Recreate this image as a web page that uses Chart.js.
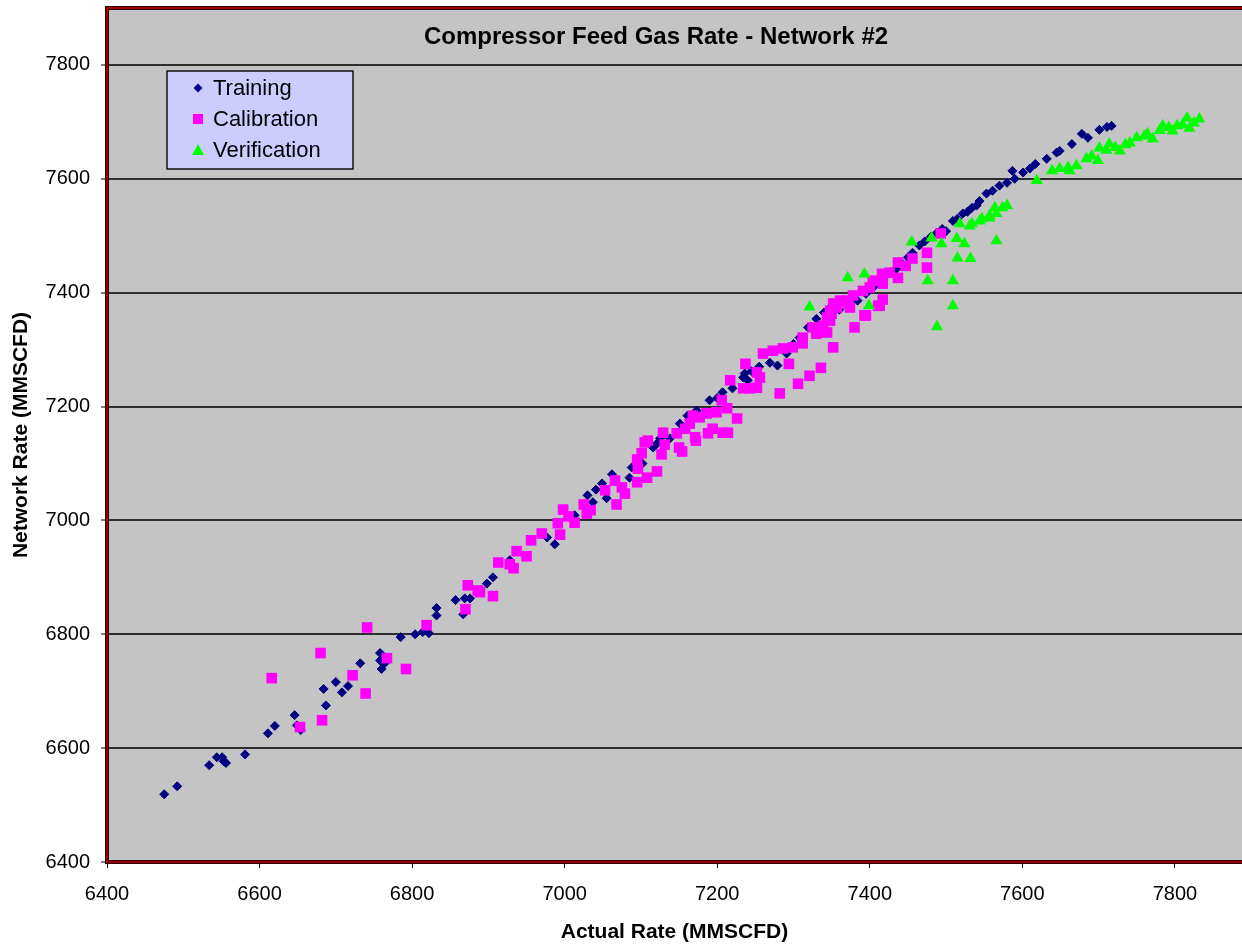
<!DOCTYPE html>
<html>
<head>
<meta charset="utf-8">
<title>Compressor Feed Gas Rate - Network #2</title>
<script src="https://cdn.jsdelivr.net/npm/chart.js@4/dist/chart.umd.min.js"></script>
<style>
  html, body { margin: 0; padding: 0; background: #fff; overflow: hidden; }
  #wrap { width: 1242px; height: 945px; position: relative; }
</style>
</head>
<body>
<div id="wrap"><canvas id="gasChart"></canvas></div>
<script>
// ============================
// DATOS
// ============================
const chartTitle = "Compressor Feed Gas Rate - Network #2";
const xTitle = "Actual Rate (MMSCFD)";
const yTitle = "Network Rate (MMSCFD)";
const seriesNames = ["Training", "Calibration", "Verification"];

const xTicks = [6400, 6600, 6800, 7000, 7200, 7400, 7600, 7800];
const yTicks = [6400, 6600, 6800, 7000, 7200, 7400, 7600, 7800];

// [actual, network]
const trainingPoints = [
  [6475,6519],[6492,6533],[6534,6570],[6544,6584],[6551,6584],[6553,6577],[6556,6574],[6581,6589],
  [6611,6626],[6620,6639],[6646,6658],[6649,6640],[6654,6632],[6684,6704],[6687,6675],[6700,6716],
  [6708,6698],[6716,6709],[6732,6749],[6758,6767],[6758,6754],[6760,6739],[6764,6749],[6785,6795],
  [6804,6800],[6814,6804],[6822,6802],[6832,6846],[6832,6833],[6857,6860],[6867,6835],[6869,6863],
  [6876,6863],[6898,6889],[6906,6900],[6928,6930],[6977,6970],[6987,6958],[7013,7009],[7030,7044],
  [7037,7032],[7041,7054],[7049,7065],[7055,7039],[7062,7081],[7085,7075],[7088,7093],[7102,7100],
  [7116,7128],[7121,7135],[7125,7144],[7138,7144],[7151,7170],[7161,7184],[7173,7193],[7190,7211],
  [7200,7215],[7207,7225],[7220,7232],[7234,7251],[7236,7258],[7240,7246],[7245,7262],[7255,7270],
  [7269,7277],[7279,7272],[7291,7293],[7300,7310],[7308,7321],[7319,7339],[7330,7354],[7340,7365],
  [7348,7374],[7360,7370],[7374,7381],[7384,7386],[7395,7398],[7405,7410],[7412,7420],[7420,7428],
  [7428,7436],[7435,7442],[7442,7452],[7450,7462],[7456,7470],[7465,7483],[7472,7490],[7480,7498],
  [7488,7505],[7495,7512],[7500,7508],[7509,7526],[7515,7530],[7522,7539],[7528,7542],[7534,7549],
  [7540,7553],[7544,7561],[7553,7574],[7561,7579],[7570,7588],[7580,7593],[7587,7614],[7590,7600],
  [7601,7611],[7610,7618],[7617,7626],[7632,7635],[7645,7646],[7649,7649],[7665,7661],[7678,7679],
  [7686,7672],[7701,7686],[7711,7691],[7717,7693]
];

const calibrationPoints = [
  [6616,6723],[6653,6637],[6680,6767],[6682,6649],[6722,6728],[6739,6696],[6741,6812],[6767,6758],
  [6792,6739],[6819,6816],[6870,6844],[6873,6886],[6886,6877],[6889,6874],[6906,6867],[6913,6926],
  [6928,6923],[6933,6916],[6937,6946],[6950,6937],[6956,6965],[6970,6977],[6994,6975],[6991,6995],
  [6998,7019],[7005,7007],[7013,6996],[7025,7028],[7029,7012],[7034,7018],[7053,7053],[7068,7028],
  [7066,7070],[7079,7047],[7075,7058],[7095,7067],[7096,7091],[7095,7107],[7108,7075],[7121,7086],
  [7101,7118],[7105,7137],[7109,7140],[7127,7116],[7131,7133],[7129,7154],[7150,7128],[7154,7121],
  [7147,7153],[7158,7161],[7164,7170],[7171,7146],[7172,7140],[7168,7184],[7177,7181],[7188,7153],
  [7194,7161],[7207,7154],[7214,7154],[7199,7190],[7213,7197],[7186,7188],[7226,7179],[7206,7211],
  [7217,7246],[7234,7232],[7243,7232],[7252,7233],[7237,7275],[7252,7260],[7256,7251],[7282,7223],
  [7306,7240],[7321,7254],[7336,7268],[7294,7275],[7260,7293],[7273,7298],[7286,7302],[7299,7304],
  [7312,7311],[7312,7321],[7330,7328],[7338,7333],[7325,7339],[7348,7351],[7350,7363],[7357,7374],
  [7352,7304],[7380,7339],[7393,7360],[7413,7377],[7371,7381],[7339,7342],[7344,7330],[7344,7356],
  [7348,7368],[7352,7381],[7361,7386],[7370,7386],[7374,7374],[7378,7395],[7391,7403],[7400,7409],
  [7404,7421],[7416,7433],[7417,7416],[7426,7435],[7437,7453],[7437,7426],[7447,7447],[7456,7460],
  [7475,7444],[7475,7470],[7493,7504],[7411,7377],[7395,7360],[7417,7388]
];

const verificationPoints = [
  [7321,7375],[7371,7426],[7393,7433],[7399,7377],[7455,7489],[7476,7421],[7481,7496],[7488,7340],
  [7494,7486],[7509,7377],[7509,7421],[7514,7495],[7515,7461],[7524,7486],[7532,7460],[7566,7491],
  [7518,7521],[7531,7517],[7534,7521],[7544,7526],[7547,7530],[7557,7531],[7557,7535],[7564,7549],
  [7566,7539],[7574,7549],[7580,7553],[7619,7597],[7639,7614],[7649,7618],[7660,7620],[7662,7614],
  [7671,7623],[7684,7635],[7691,7640],[7699,7632],[7701,7654],[7710,7650],[7714,7661],[7722,7655],
  [7728,7649],[7735,7660],[7741,7663],[7750,7672],[7760,7675],[7764,7679],[7771,7670],[7780,7685],
  [7784,7693],[7792,7690],[7797,7684],[7803,7693],[7810,7695],[7816,7707],[7819,7689],[7825,7698],
  [7832,7705]
];

const toXY = (pts) => pts.map(p => ({ x: p[0], y: p[1] }));

const FONT = "'Liberation Sans', Arial, sans-serif";

// ============================
// Marcadores de la leyenda
// ============================
function drawMarker(ctx, style, color, x, y) {
  ctx.fillStyle = color;
  ctx.beginPath();
  if (style === "rectRot") {
    ctx.moveTo(x, y - 4.5); ctx.lineTo(x + 4.5, y); ctx.lineTo(x, y + 4.5); ctx.lineTo(x - 4.5, y);
  } else if (style === "rect") {
    ctx.rect(x - 5, y - 5, 10, 10);
  } else {
    ctx.moveTo(x, y - 6); ctx.lineTo(x + 6, y + 5); ctx.lineTo(x - 6, y + 5);
  }
  ctx.closePath();
  ctx.fill();
}

// Fondo gris, marco, titulo y leyenda
const plotFrame = {
  id: "plotFrame",
  beforeDraw(chart) {
    const { ctx, chartArea: a } = chart;
    ctx.save();
    ctx.fillStyle = "#c4c4c4";
    ctx.fillRect(a.left, a.top, a.right - a.left + 20, a.bottom - a.top);
    ctx.restore();
  },
  afterDraw(chart) {
    const { ctx, chartArea: a } = chart;
    ctx.save();

    // marco rojo oscuro
    ctx.lineWidth = 4;
    ctx.strokeStyle = "#2a0000";
    ctx.strokeRect(a.left, a.top, a.right - a.left + 20, a.bottom - a.top);
    ctx.lineWidth = 2;
    ctx.strokeStyle = "#9a0000";
    ctx.strokeRect(a.left, a.top, a.right - a.left + 20, a.bottom - a.top);

    // titulo dentro del area
    ctx.fillStyle = "#000";
    ctx.font = "bold 24px " + FONT;
    ctx.textAlign = "center";
    ctx.textBaseline = "middle";
    ctx.fillText(chartTitle, a.left + 549, a.top + 29);

    // leyenda
    const lx = a.left + 60, ly = a.top + 63, lw = 186, lh = 98;
    ctx.fillStyle = "#ccccff";
    ctx.fillRect(lx, ly, lw, lh);
    ctx.lineWidth = 1.5;
    ctx.strokeStyle = "#111";
    ctx.strokeRect(lx, ly, lw, lh);

    ctx.font = "22px " + FONT;
    ctx.textAlign = "left";
    chart.data.datasets.forEach((ds, i) => {
      const cy = ly + 17 + i * 31;
      drawMarker(ctx, ds.pointStyle, ds.backgroundColor, lx + 31, cy);
      ctx.fillStyle = "#000";
      ctx.fillText(ds.label, lx + 46, cy + 1);
    });
    ctx.restore();
  }
};

const ctx = document.getElementById("gasChart").getContext("2d");

new Chart(ctx, {
  type: "scatter",
  data: {
    datasets: [
      {
        label: seriesNames[0],
        data: toXY(trainingPoints),
        pointStyle: "rectRot",
        pointRadius: 4.5,
        backgroundColor: "#000080",
        borderColor: "#000080",
        borderWidth: 1,
        order: 3,
      },
      {
        label: seriesNames[1],
        data: toXY(calibrationPoints),
        pointStyle: "rect",
        pointRadius: 7.5,
        backgroundColor: "#ff00ff",
        borderColor: "#ff00ff",
        borderWidth: 0,
        order: 2,
      },
      {
        label: seriesNames[2],
        data: toXY(verificationPoints),
        pointStyle: "triangle",
        pointRadius: 7,
        backgroundColor: "#00ff00",
        borderColor: "#00ff00",
        borderWidth: 0,
        order: 1,
      },
    ],
  },
  options: {
    responsive: true,
    maintainAspectRatio: false,
    animation: false,
    devicePixelRatio: 1,
    layout: { autoPadding: false, padding: { top: 8, left: 0, right: 0, bottom: 0 } },
    plugins: {
      legend: { display: false },
      title: { display: false },
      tooltip: { enabled: false },
    },
    scales: {
      x: {
        type: "linear",
        min: 6400,
        max: 7888,
        afterBuildTicks: (s) => { s.ticks = xTicks.map(v => ({ value: v })); },
        afterFit: (s) => { s.height = 83; s.paddingLeft = 0; s.paddingRight = 0; },
        border: { display: false },
        grid: { drawOnChartArea: false, tickLength: 6, tickColor: "#000", tickWidth: 1 },
        ticks: { color: "#000", font: { family: FONT, size: 20 }, padding: 14, maxRotation: 0, callback: (v) => String(v) },
        title: { display: true, text: xTitle, color: "#000", font: { family: FONT, size: 21, weight: "bold" }, padding: { top: 0, bottom: 0 } },
      },
      y: {
        type: "linear",
        min: 6400,
        max: 7900,
        afterBuildTicks: (s) => { s.ticks = yTicks.map(v => ({ value: v })); },
        afterFit: (s) => { s.width = 107; s.paddingTop = 0; s.paddingBottom = 0; },
        border: { display: false },
        grid: { color: "#2e2e2e", lineWidth: 2, tickLength: 6, tickColor: "#000", tickWidth: 1 },
        ticks: { color: "#000", font: { family: FONT, size: 20 }, padding: 11, callback: (v) => String(v) },
        title: { display: true, text: yTitle, color: "#000", font: { family: FONT, size: 21, weight: "bold" }, padding: { top: 9, bottom: 0 } },
      },
    },
  },
  plugins: [plotFrame],
});
</script>
</body>
</html>
